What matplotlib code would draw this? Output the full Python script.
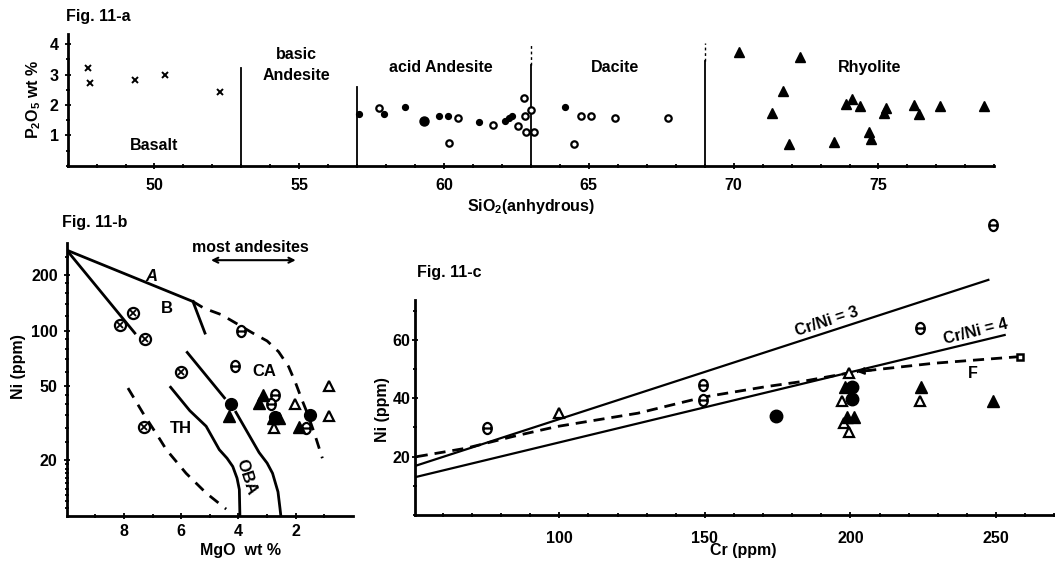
import matplotlib
matplotlib.use("Agg")
import matplotlib.pyplot as plt
import numpy as np
from matplotlib.ticker import FixedLocator, NullFormatter, MultipleLocator
from matplotlib.path import Path
from matplotlib.transforms import Affine2D

plt.rcParams['font.family'] = ['Liberation Sans', 'DejaVu Sans']
plt.rcParams['font.weight'] = 'bold'
plt.rcParams['mathtext.default'] = 'regular'
plt.rcParams['mathtext.fontset'] = 'custom'
plt.rcParams['mathtext.rm'] = 'Liberation Sans:bold'

# ---------------- Fig. 11-a data (SiO2 vs P2O5) ----------------
basalt_sio2 = [47.71, 47.79, 49.33, 50.37, 52.27]
basalt_p2o5 = [3.22, 2.72, 2.83, 3.00, 2.42]

dot_sio2 = [57.07, 57.94, 58.65, 59.81, 60.14, 61.19, 62.11, 62.23, 62.34, 64.17]
dot_p2o5 = [1.70, 1.70, 1.93, 1.64, 1.64, 1.45, 1.48, 1.56, 1.64, 1.92]
bigdot_sio2 = [59.29]
bigdot_p2o5 = [1.48]

open_sio2 = [57.76, 60.47, 60.18, 61.70, 62.54, 62.75, 62.80, 63.00, 62.83, 63.09,
             64.48, 64.72, 65.07, 65.90, 67.72]
open_p2o5 = [1.89, 1.58, 0.74, 1.33, 1.30, 2.22, 1.65, 1.82, 1.11, 1.11,
             0.71, 1.65, 1.65, 1.57, 1.57]

rhy_sio2 = [70.20, 72.29, 71.70, 71.34, 71.92, 73.47, 73.89, 74.09, 74.36, 74.68,
            74.74, 75.25, 75.18, 76.24, 76.40, 77.12, 78.63]
rhy_p2o5 = [3.75, 3.58, 2.46, 1.74, 0.70, 0.79, 2.02, 2.19, 1.96, 1.12,
            0.89, 1.90, 1.73, 2.01, 1.71, 1.96, 1.96]

bound_sio2 = [53, 57, 63, 69]
bound_solid_top = [3.22, 2.60, 3.30, 3.45]
bound_dotted_top = [3.22, 2.60, 4.00, 4.05]

field_names = ['Basalt', 'basic\nAndesite', 'acid Andesite', 'Dacite', 'Rhyolite']
field_sio2 = [50.0, 54.9, 59.9, 65.9, 74.7]
field_p2o5 = [0.67, 3.30, 3.22, 3.22, 3.22]

# ---------------- Fig. 11-b data (MgO vs Ni, log) ----------------
A_solid_mgo = [10.0, 5.59]
A_solid_ni = [272, 143.6]
A_dash_mgo = [5.59, 5.2, 4.6, 4.1, 3.5, 3.0, 2.6, 2.25, 2.0, 1.8, 1.6, 1.35, 1.07]
A_dash_ni = [143.6, 132, 122, 110, 97, 88, 77, 64, 52, 43, 36, 28, 20.5]
B_mgo = [10.0, 7.62]
B_ni = [272, 97]
Btick_mgo = [5.59, 5.17]
Btick_ni = [143.6, 97]
CA1_mgo = [5.79, 4.49]
CA1_ni = [76.3, 43.4]
CA2_mgo = [4.09, 3.28, 3.0, 2.81, 2.62, 2.55, 2.52]
CA2_ni = [36.3, 22.0, 19.3, 17.0, 13.5, 11.0, 10.0]
TH_mgo = [6.37, 5.7, 5.13, 4.67, 4.4, 4.2, 4.05, 3.97, 3.95]
TH_ni = [49.5, 37, 30.5, 22.8, 20.5, 18.5, 16.0, 13.9, 10.0]
THd_mgo = [7.86, 7.34, 6.75, 6.52, 5.83, 5.13, 4.43]
THd_ni = [49, 36, 26, 22.8, 17, 13.3, 10.9]

otimes_mgo = [8.15, 7.68, 7.28, 6.02, 7.30]
otimes_ni = [107, 125, 90, 59.6, 30.3]
thetab_mgo = [3.91, 4.12, 2.72, 2.87, 1.65]
thetab_ni = [99, 64.6, 45.2, 40.0, 29.9]
fcirc_b_mgo = [4.26, 2.72, 1.50]
fcirc_b_ni = [40.4, 34.0, 35.0]
ftri_b_mgo = [4.34, 3.16, 3.28, 2.81, 2.58, 1.88]
ftri_b_ni = [34.8, 45.2, 40.7, 33.8, 33.8, 30.4]
otri_b_mgo = [2.75, 2.02, 0.84, 0.84]
otri_b_ni = [29.9, 40.0, 50.0, 34.7]

# ---------------- Fig. 11-c data (Cr vs Ni) ----------------
r3_cr = [51, 247.4]
r3_ni = [17.0, 80.6]
r4_cr = [51, 253]
r4_ni = [13.1, 61.7]
F_cr = [51, 68, 84, 99, 127, 150, 171, 183, 199]
F_ni = [20.0, 22.9, 26.9, 30.3, 34.9, 40.5, 44.0, 45.7, 48.6]
Farrow_cr = [258.3, 228.5, 202.2]
Farrow_ni = [54.3, 52.0, 49.1]

thetac_cr = [75.3, 149.5, 149.5, 224.0, 249.0]
thetac_ni = [29.9, 44.6, 39.4, 64.0, 99.4]
otri_c_cr = [100.0, 199.6, 197.0, 197.9, 199.6, 224.0]
otri_c_ni = [34.9, 48.6, 39.2, 31.6, 28.6, 39.1]
ftri_c_cr = [198.1, 198.8, 201.3, 224.3, 249.0]
ftri_c_ni = [44.0, 33.7, 33.7, 44.0, 39.1]
fcirc_c_cr = [174.5, 200.4, 200.4]
fcirc_c_ni = [33.9, 44.0, 39.7]

W, H = 1055, 571
fig = plt.figure(figsize=(W / 100, H / 100), dpi=100)

# theta-like marker: tall ellipse crossed by a horizontal bar
_ell = Path.unit_circle().transformed(Affine2D().scale(0.78, 1.0))
_bar = Path([(-0.78, 0.0), (0.78, 0.0)], [Path.MOVETO, Path.LINETO])
theta_marker = Path.make_compound_path(_ell, _bar)


def axes_px(left, top, right, bottom):
    return fig.add_axes([left / W, 1 - bottom / H, (right - left) / W, (bottom - top) / H])


def ftext(x, y, s, **kw):
    kw.setdefault('fontsize', 11.5)
    kw.setdefault('fontweight', 'bold')
    fig.text(x / W, 1 - y / H, s, **kw)


def style(ax):
    for s in ['top', 'right']:
        ax.spines[s].set_visible(False)
    for s in ['left', 'bottom']:
        ax.spines[s].set_linewidth(2.0)
    ax.tick_params(which='both', direction='inout', width=1.3, labelsize=11.5)
    ax.tick_params(which='major', length=5)
    ax.tick_params(which='minor', length=3)
    for lab in ax.get_xticklabels() + ax.get_yticklabels():
        lab.set_fontweight('bold')


# ---------------- Panel a ----------------
axa = axes_px(67.6, 33.8, 994.3, 165.7)
axa.set_xlim(47.0, 79.0)
axa.set_ylim(0, 4.34)
for xb, st, dt in zip(bound_sio2, bound_solid_top, bound_dotted_top):
    axa.plot([xb, xb], [0, st], color='black', lw=1.3)
    if dt > st:
        axa.plot([xb, xb], [st, dt], color='black', lw=1.0, ls=(0, (2, 2)))
axa.plot(basalt_sio2, basalt_p2o5, ls='none', marker='x', ms=4.5, mew=1.4, color='black')
axa.plot(dot_sio2, dot_p2o5, ls='none', marker='o', ms=4.2, color='black')
axa.plot(bigdot_sio2, bigdot_p2o5, ls='none', marker='o', ms=6.5, color='black')
axa.plot(open_sio2, open_p2o5, ls='none', marker='o', ms=4.6, mfc='white', mec='black', mew=1.6)
axa.plot(rhy_sio2, rhy_p2o5, ls='none', marker='^', ms=7.5, color='black')
for name, xs, yp in zip(field_names, field_sio2, field_p2o5):
    axa.text(xs, yp, name, ha='center', va='center', fontsize=11.5, fontweight='bold',
             linespacing=1.5)
axa.set_xticks([50, 55, 60, 65, 70, 75])
axa.xaxis.set_minor_locator(MultipleLocator(1))
axa.set_yticks([1, 2, 3, 4])
axa.yaxis.set_minor_locator(MultipleLocator(0.5))
style(axa)
axa.tick_params(axis='x', which='major', pad=6)
axa.tick_params(axis='y', which='major', pad=4)

ftext(66, 17, 'Fig. 11-a', ha='left', va='center')
ftext(34, 99, 'P$_2$O$_5$ wt %', ha='center', va='center', rotation=90)
ftext(531, 207, 'SiO$_2$(anhydrous)', ha='center', va='center')

# ---------------- Panel b ----------------
axb = axes_px(66.7, 243.3, 353, 516)
axb.set_yscale('log')
axb.set_xlim(10, 0)
axb.set_ylim(10, 296)
axb.plot(A_solid_mgo, A_solid_ni, color='black', lw=2.0)
axb.plot(A_dash_mgo, A_dash_ni, color='black', lw=2.0, ls=(0, (4, 3)))
axb.plot(B_mgo, B_ni, color='black', lw=2.0)
axb.plot(Btick_mgo, Btick_ni, color='black', lw=2.0)
axb.plot(CA1_mgo, CA1_ni, color='black', lw=2.0)
axb.plot(CA2_mgo, CA2_ni, color='black', lw=2.0)
axb.plot(TH_mgo, TH_ni, color='black', lw=2.0)
axb.plot(THd_mgo, THd_ni, color='black', lw=2.0, ls=(0, (4, 3)))

axb.plot(otimes_mgo, otimes_ni, ls='none', marker='o', ms=8, mfc='white', mec='black', mew=1.6)
axb.plot(otimes_mgo, otimes_ni, ls='none', marker='x', ms=4, mec='black', mew=1.3)
axb.plot(thetab_mgo, thetab_ni, ls='none', marker=theta_marker, ms=8, mfc='white', mec='black',
         mew=1.6)
axb.plot(fcirc_b_mgo, fcirc_b_ni, ls='none', marker='o', ms=8.5, color='black')
axb.plot(ftri_b_mgo, ftri_b_ni, ls='none', marker='^', ms=8, color='black')
axb.plot(otri_b_mgo, otri_b_ni, ls='none', marker='^', ms=7, mfc='white', mec='black', mew=1.6)

axb.text(7.04, 196, 'A', ha='center', va='center', fontsize=12, fontweight='bold', style='italic')
axb.text(6.5, 131, 'B', ha='center', va='center', fontsize=12, fontweight='bold')
axb.text(3.1, 60.4, 'CA', ha='center', va='center', fontsize=12, fontweight='bold')
axb.text(6.0, 29.8, 'TH', ha='center', va='center', fontsize=12, fontweight='bold')
axb.text(3.72, 16.3, 'OBA', ha='center', va='center', fontsize=12, fontweight='bold', rotation=-72)
axb.annotate('', xy=(2.0, 240), xytext=(4.96, 240),
             arrowprops=dict(arrowstyle='<->', lw=1.5, color='black',
                             shrinkA=0, shrinkB=0, mutation_scale=9),
             annotation_clip=False)
axb.text(3.57, 280, 'most andesites', ha='center', va='center', fontsize=11.5,
         fontweight='bold', clip_on=False)
axb.yaxis.set_major_locator(FixedLocator([20, 50, 100, 200]))
axb.set_yticklabels(['20', '50', '100', '200'])
axb.yaxis.set_minor_locator(FixedLocator([11, 12, 13, 14, 15, 16, 17, 18, 19, 25, 30, 35, 40, 45,
                                          60, 70, 80, 90, 120, 140, 160, 180, 250]))
axb.yaxis.set_minor_formatter(NullFormatter())
axb.set_xticks([8, 6, 4, 2])
axb.xaxis.set_minor_locator(FixedLocator([9, 7, 5, 3, 1]))
style(axb)
axb.tick_params(axis='x', which='major', pad=3)
axb.tick_params(axis='y', which='major', pad=4)

ftext(62, 223, 'Fig. 11-b', ha='left', va='center')
ftext(18, 367, 'Ni (ppm)', ha='center', va='center', rotation=90)
ftext(240, 550, 'MgO  wt %', ha='center', va='center')

# ---------------- Panel c ----------------
axc = axes_px(415, 300, 1055, 515)
axc.set_xlim(50.4, 270.3)
axc.set_ylim(0, 73.7)
axc.plot(r3_cr, r3_ni, color='black', lw=1.6, clip_on=False)
axc.plot(r4_cr, r4_ni, color='black', lw=1.6, clip_on=False)
axc.plot(F_cr, F_ni, color='black', lw=2.0, ls=(0, (4, 2.5)))
axc.plot(Farrow_cr, Farrow_ni, color='black', lw=2.0, ls=(0, (4, 2.5)))
axc.annotate('', xy=(Farrow_cr[-1], Farrow_ni[-1]), xytext=(Farrow_cr[-1] + 5, Farrow_ni[-1] + 0.5),
             arrowprops=dict(arrowstyle='-|>', lw=1.5, color='black', shrinkA=0, shrinkB=0,
                             mutation_scale=10))
axc.plot(Farrow_cr[:1], Farrow_ni[:1], ls='none', marker='s', ms=5, mfc='white', mec='black', mew=1.8)

axc.plot(thetac_cr, thetac_ni, ls='none', marker=theta_marker, ms=8, mfc='white', mec='black',
         mew=1.6, clip_on=False)
axc.plot(otri_c_cr, otri_c_ni, ls='none', marker='^', ms=7.5, mfc='white', mec='black', mew=1.6)
axc.plot(ftri_c_cr, ftri_c_ni, ls='none', marker='^', ms=8, color='black')
axc.plot(fcirc_c_cr, fcirc_c_ni, ls='none', marker='o', ms=9, color='black')

axc.text(191.8, 66.3, 'Cr/Ni = 3', ha='center', va='center', fontsize=11.5, fontweight='bold',
         rotation=18, rotation_mode='anchor')
axc.text(242.9, 62.8, 'Cr/Ni = 4', ha='center', va='center', fontsize=11.5, fontweight='bold',
         rotation=14, rotation_mode='anchor')
axc.text(242.0, 48.6, 'F', ha='center', va='center', fontsize=11.5, fontweight='bold')

axc.set_xticks([100, 150, 200, 250])
axc.xaxis.set_minor_locator(MultipleLocator(10))
axc.set_yticks([20, 40, 60])
axc.yaxis.set_minor_locator(MultipleLocator(10))
style(axc)
axc.tick_params(axis='x', which='major', pad=9)
axc.tick_params(axis='y', which='major', pad=1)

ftext(417, 272, 'Fig. 11-c', ha='left', va='center')
ftext(382, 410, 'Ni (ppm)', ha='center', va='center', rotation=90)
ftext(743, 550, 'Cr (ppm)', ha='center', va='center')

fig.savefig('out.png', dpi=100)
